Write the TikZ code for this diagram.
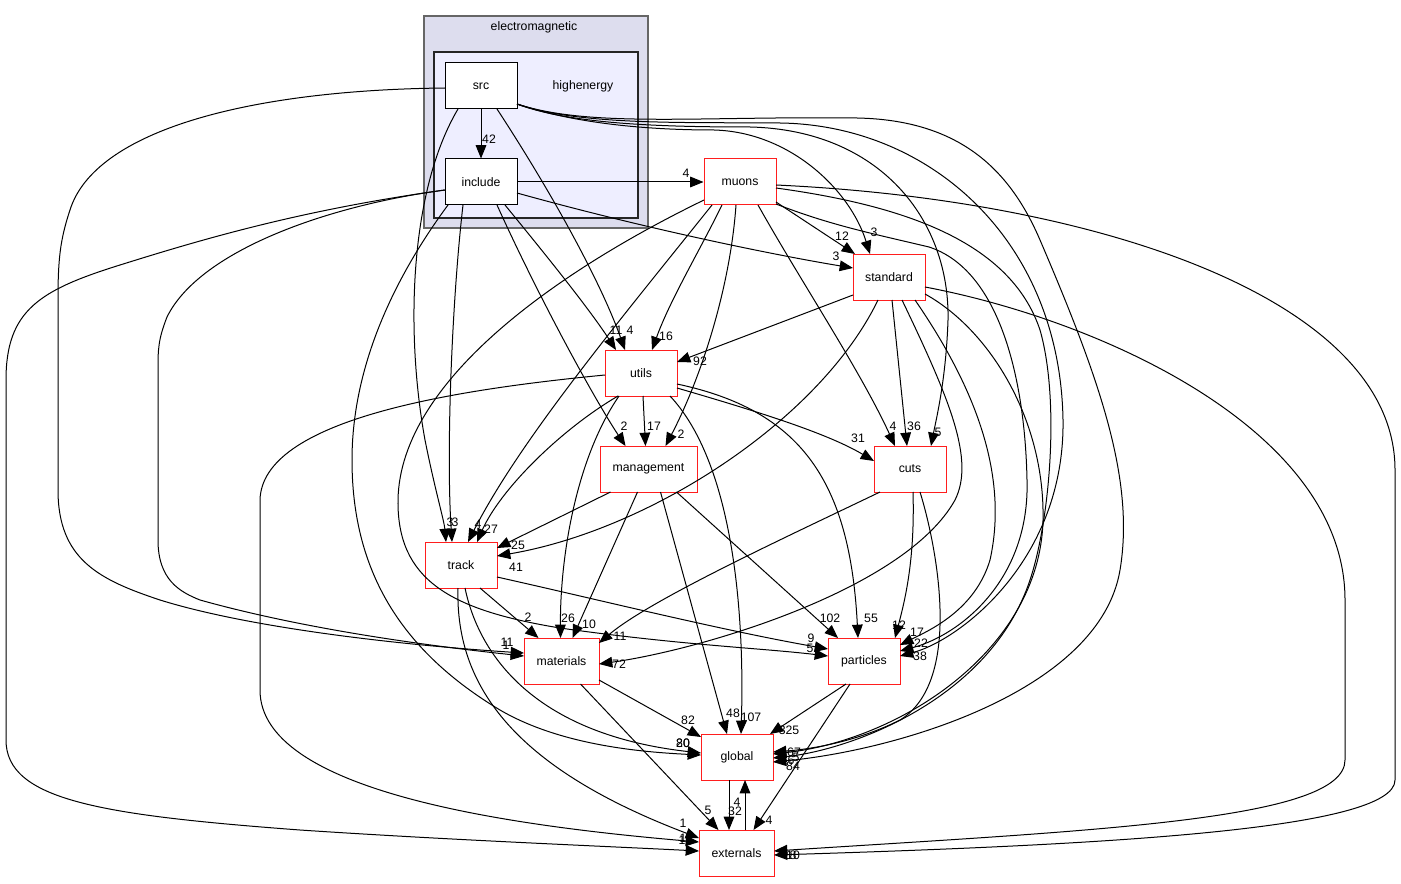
\documentclass[tikz,border=0pt]{standalone}
\usepackage{fontspec}
\setmainfont{Liberation Sans}
\usetikzlibrary{arrows.meta,calc}
\definecolor{nodered}{RGB}{255,30,30}
\definecolor{clusterA}{RGB}{221,221,238}
\definecolor{clusterB}{RGB}{238,238,255}
\begin{document}
\begin{tikzpicture}[x=0.75pt,y=-0.75pt,
  font=\fontsize{9.2}{11}\selectfont,
  dirbox/.style={draw=nodered, fill=white, line width=0.75pt, minimum width=54pt, minimum height=34.5pt, inner sep=0pt},
  cdirbox/.style={draw=black, fill=white, line width=0.75pt, minimum width=54pt, minimum height=34.5pt, inner sep=0pt},
  e/.style={draw=black, line width=0.75pt, -{Triangle[length=10pt,width=8pt]}},
  lbl/.style={inner sep=0pt, font=\fontsize{9.2}{11}\selectfont}]
\useasboundingbox (0,0) rectangle (1401,884);
\fill[white] (0,0) rectangle (1401,884);
% clusters
\draw[fill=clusterA, draw=black!60, line width=1.5pt] (424,16) rectangle (648,228);
\draw[fill=clusterB, draw=black!85, line width=0.9pt] (434,52) rectangle (638,218);
\node[lbl] (lemag) at (534,27) {electromagnetic};
\node[lbl] (lhigh) at (583,86) {highenergy};
% nodes
\node[cdirbox] (src) at (481,86) {src};
\node[cdirbox] (include) at (481,182) {include};
\node[dirbox] (muons) at (740,182) {muons};
\node[dirbox] (standard) at (889,277) {standard};
\node[dirbox] (utils) at (641,373) {utils};
\node[dirbox, minimum width=72.75pt] (management) at (648.5,469) {management};
\node[dirbox] (cuts) at (910,469) {cuts};
\node[dirbox] (track) at (461,565) {track};
\node[dirbox, minimum width=56.25pt] (materials) at (561.5,661) {materials};
\node[dirbox] (particles) at (864,661) {particles};
\node[dirbox] (global) at (737,757) {global};
\node[dirbox, minimum width=56.25pt] (externals) at (736.5,853) {externals};
% ---------- src
\draw[e] (src.south) -- (include.north);
\draw[e] ($(src)+(16,23)$) .. controls (550,190) and (600,280) .. ($(utils)+(-16,-23)$);
\draw[e] ($(src)+(-23,23)$) .. controls (410,190) and (405,330) .. (425,440) .. controls (435,490) and (444,520) .. ($(track)+(-15,-23)$);
\draw[e] ($(src)+(-36,2)$) .. controls (250,90) and (95,130) .. (70,210) .. controls (60,240) and (58,260) .. (58,300) -- (58,490) .. controls (58,560) and (100,580) .. (160,600) .. controls (250,628) and (400,645) .. ($(materials)+(-37.5,-8)$);
\draw[e] ($(src)+(36,18)$) .. controls (570,122) and (640,130) .. (714,130) .. controls (790,132) and (850,190) .. ($(standard)+(-19,-23)$);
\draw[e] ($(src)+(36,18)$) .. controls (570,124) and (660,127) .. (750,127) .. controls (880,130) and (950,220) .. (948,320) .. controls (946,380) and (936,420) .. ($(cuts)+(21,-23)$);
\draw[e] ($(src)+(36,18)$) .. controls (580,126) and (690,122) .. (780,123) .. controls (930,125) and (1060,240) .. (1063,420) .. controls (1065,560) and (960,640) .. ($(particles)+(36,-5)$);
\draw[e] ($(src)+(36,18)$) .. controls (590,128) and (700,116) .. (857,118) .. controls (960,120) and (1010,170) .. (1040,240) .. controls (1100,380) and (1135,480) .. (1120,570) .. controls (1100,690) and (900,750) .. ($(global)+(36,5)$);
% ---------- include
\draw[e] (include.east) -- (muons.west);
\draw[e] ($(include)+(36,11)$) .. controls (650,230) and (780,256) .. ($(standard)+(-36,-9)$);
\draw[e] ($(include)+(24,23)$) .. controls (550,260) and (590,310) .. ($(utils)+(-25,-23)$);
\draw[e] ($(include)+(16,23)$) .. controls (540,300) and (595,400) .. ($(management)+(-23,-23)$);
\draw[e] ($(include)+(-18,23)$) .. controls (452,300) and (446,450) .. ($(track)+(-9,-23)$);
\draw[e] ($(include)+(-33,23)$) .. controls (400,270) and (352,360) .. (352,460) .. controls (352,570) and (400,650) .. (500,710) .. controls (560,745) and (640,752) .. ($(global)+(-36,-2)$);
\draw[e] ($(include)+(-36,8)$) .. controls (330,205) and (200,250) .. (167,317) .. controls (158,340) and (158,350) .. (158,370) -- (158,540) .. controls (158,580) and (180,592) .. (200,600) .. controls (300,628) and (420,645) .. ($(materials)+(-37.5,-5)$);
\draw[e] ($(include)+(-36,8)$) .. controls (300,210) and (200,240) .. (120,265) .. controls (40,290) and (6,310) .. (6,380) -- (6,740) .. controls (6,800) and (100,815) .. (300,830) .. controls (450,840) and (600,846) .. ($(externals)+(-37.5,-2)$);
% ---------- muons
\draw[e] ($(muons)+(36,20)$) -- ($(standard)+(-34,-23)$);
\draw[e] ($(muons)+(-18,23)$) .. controls (700,250) and (670,300) .. ($(utils)+(11,-23)$);
\draw[e] ($(muons)+(-4,23)$) .. controls (730,290) and (700,380) .. ($(management)+(17,-23)$);
\draw[e] ($(muons)+(18,23)$) .. controls (800,280) and (860,370) .. ($(cuts)+(-15,-23)$);
\draw[e] ($(muons)+(-28,23)$) .. controls (620,320) and (520,440) .. ($(track)+(7,-23)$);
\draw[e] ($(muons)+(-36,18)$) .. controls (560,270) and (400,380) .. (398,500) .. controls (397,580) and (450,610) .. (560,628) .. controls (680,645) and (760,648) .. ($(particles)+(-36,-5)$);
\draw[e] ($(muons)+(36,22)$) .. controls (830,225) and (870,233) .. (929,247) .. controls (1000,270) and (1025,380) .. (1027,480) .. controls (1030,580) and (960,635) .. ($(particles)+(36,-10)$);
\draw[e] ($(muons)+(36,6)$) .. controls (900,205) and (1010,240) .. (1040,330) .. controls (1060,400) and (1050,520) .. (1030,580) .. controls (990,700) and (850,750) .. ($(global)+(36,1)$);
\draw[e] ($(muons)+(36,3)$) .. controls (1100,200) and (1395,300) .. (1395,470) -- (1395,780) .. controls (1395,830) and (1100,845) .. ($(externals)+(37.5,2)$);
% ---------- standard
\draw[e] ($(standard)+(-36,18)$) -- ($(utils)+(36,-11)$);
\draw[e] ($(standard)+(-11,23)$) .. controls (820,420) and (650,530) .. ($(track)+(36,-9)$);
\draw[e] ($(standard)+(3,23)$) -- ($(cuts)+(-3,-23)$);
\draw[e] ($(standard)+(13,23)$) .. controls (950,400) and (975,460) .. (955,500) .. controls (905,590) and (700,650) .. ($(materials)+(37.5,3)$);
\draw[e] ($(standard)+(26,23)$) .. controls (970,380) and (1010,470) .. (990,560) .. controls (975,610) and (930,630) .. ($(particles)+(36,-16)$);
\draw[e] ($(standard)+(36,17)$) .. controls (990,330) and (1045,420) .. (1043,520) .. controls (1040,650) and (900,740) .. ($(global)+(36,-3)$);
\draw[e] ($(standard)+(36,10)$) .. controls (1100,320) and (1345,430) .. (1345,600) -- (1345,760) .. controls (1345,820) and (1100,830) .. ($(externals)+(37.5,-2)$);
% ---------- utils
\draw[e] ($(utils)+(-23,23)$) .. controls (560,430) and (500,490) .. ($(track)+(16,-23)$);
\draw[e] ($(utils)+(-22,23)$) .. controls (575,460) and (560,560) .. ($(materials)+(-1,-23)$);
\draw[e] ($(utils)+(2,23)$) -- ($(management)+(-3,-23)$);
\draw[e] ($(utils)+(29,23)$) .. controls (730,460) and (745,600) .. ($(global)+(4,-23)$);
\draw[e] ($(utils)+(36,15)$) .. controls (770,415) and (830,435) .. ($(cuts)+(-36,-8)$);
\draw[e] ($(utils)+(36,11)$) .. controls (800,410) and (850,480) .. ($(particles)+(-6,-23)$);
\draw[e] ($(utils)+(-36,2)$) .. controls (450,390) and (262,420) .. (260,500) -- (260,690) .. controls (260,790) and (500,825) .. ($(externals)+(-37.5,-11)$);
% ---------- management
\draw[e] ($(management)+(-38,23)$) -- ($(track)+(36,-17)$);
\draw[e] ($(management)+(-11,23)$) -- ($(materials)+(11,-23)$);
\draw[e] ($(management)+(12,23)$) -- ($(global)+(-10,-23)$);
\draw[e] ($(management)+(28,23)$) -- ($(particles)+(-26,-23)$);
% ---------- cuts
\draw[e] ($(cuts)+(-30,23)$) .. controls (780,540) and (650,600) .. ($(materials)+(37.5,-18)$);
\draw[e] ($(cuts)+(3,23)$) .. controls (915,560) and (905,600) .. ($(particles)+(31,-23)$);
\draw[e] ($(cuts)+(10,23)$) .. controls (935,540) and (965,680) .. (900,720) .. controls (850,745) and (800,750) .. ($(global)+(36,-5)$);
% ---------- track
\draw[e] ($(track)+(19,23)$) -- ($(materials)+(-23,-23)$);
\draw[e] ($(track)+(36,12)$) .. controls (600,600) and (720,630) .. ($(particles)+(-36,-12)$);
\draw[e] ($(track)+(4,23)$) .. controls (480,660) and (540,735) .. ($(global)+(-36,-4)$);
\draw[e] ($(track)+(-3,23)$) .. controls (455,690) and (520,770) .. ($(externals)+(-37.5,-15)$);
% ---------- materials
\draw[e] ($(materials)+(37.5,19)$) -- ($(global)+(-36,-20)$);
\draw[e] ($(materials)+(19,23)$) -- ($(externals)+(-18,-23)$);
% ---------- particles
\draw[e] ($(particles)+(-18,23)$) -- ($(global)+(33,-23)$);
\draw[e] ($(particles)+(-14,23)$) -- ($(externals)+(17,-23)$);
% ---------- global / externals
\draw[e] ($(global)+(-8,23)$) -- ($(externals)+(-7.5,-23)$);
\draw[e] ($(externals)+(8.5,-23)$) -- ($(global)+(8,23)$);
% ---------- labels
\node[lbl] at (489,139) {42};
\node[lbl] at (630,330) {4};
\node[lbl] at (450,522) {3};
\node[lbl] at (507,642) {11};
\node[lbl] at (874,232) {3};
\node[lbl] at (938,432) {5};
\node[lbl] at (920,656) {38};
\node[lbl] at (686,173) {4};
\node[lbl] at (836,256) {3};
\node[lbl] at (616,330) {11};
\node[lbl] at (624,426) {2};
\node[lbl] at (455,522) {3};
\node[lbl] at (683,743) {20};
\node[lbl] at (506,645) {1};
\node[lbl] at (682,840) {1};
\node[lbl] at (842,236) {12};
\node[lbl] at (666,336) {16};
\node[lbl] at (681,434) {2};
\node[lbl] at (893,426) {4};
\node[lbl] at (478,524) {4};
\node[lbl] at (810,648) {5};
\node[lbl] at (921,643) {22};
\node[lbl] at (700,361) {92};
\node[lbl] at (516,567) {41};
\node[lbl] at (914,426) {36};
\node[lbl] at (619,664) {72};
\node[lbl] at (917,632) {17};
\node[lbl] at (491,529) {27};
\node[lbl] at (568,618) {26};
\node[lbl] at (654,426) {17};
\node[lbl] at (751,717) {107};
\node[lbl] at (858,438) {31};
\node[lbl] at (871,618) {55};
\node[lbl] at (683,823) {1};
\node[lbl] at (518,545) {25};
\node[lbl] at (589,624) {10};
\node[lbl] at (733,713) {48};
\node[lbl] at (830,618) {102};
\node[lbl] at (620,636) {11};
\node[lbl] at (899,625) {12};
\node[lbl] at (528,617) {2};
\node[lbl] at (811,638) {9};
\node[lbl] at (683,743) {80};
\node[lbl] at (683,838) {1};
\node[lbl] at (688,720) {82};
\node[lbl] at (708,810) {5};
\node[lbl] at (789,730) {325};
\node[lbl] at (769,820) {4};
\node[lbl] at (735,811) {32};
\node[lbl] at (737,802) {4};
\node[lbl] at (794,752) {67};
\node[lbl] at (796,757) {5};
\node[lbl] at (793,766) {84};
\node[lbl] at (791,760) {6};
\node[lbl] at (793,855) {10};
\node[lbl] at (793,855) {8};
\end{tikzpicture}
\end{document}
